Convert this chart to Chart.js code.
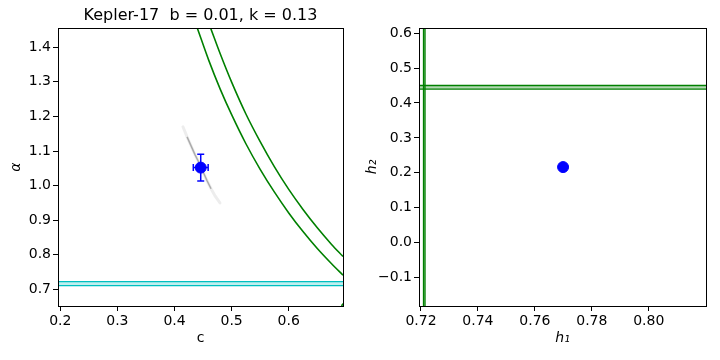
<!DOCTYPE html>
<html>
<head>
<meta charset="utf-8">
<script src="https://cdn.jsdelivr.net/npm/chart.js@4.4.1/dist/chart.umd.min.js"></script>
<style>
  html, body { margin: 0; padding: 0; background: #fff; }
  #wrap { position: relative; width: 720px; height: 360px; }
  canvas { position: absolute; top: 0; }
</style>
</head>
<body>
<div id="wrap">
  <canvas id="left-chart" width="360" height="360" style="left:0"></canvas>
  <canvas id="right-chart" width="360" height="360" style="left:360px"></canvas>
</div>
<script>
// ---- left panel: c vs alpha
const cRange = [0.196, 0.695];
const alphaRange = [0.652, 1.455];
const cTicks = [0.2, 0.3, 0.4, 0.5, 0.6];
const alphaTicks = [0.7, 0.8, 0.9, 1.0, 1.1, 1.2, 1.3, 1.4];

const innerCurveC = [0.440, 0.460, 0.480, 0.500, 0.525, 0.550, 0.575, 0.600, 0.625, 0.650, 0.675, 0.695];
const innerCurveAlpha = [1.455, 1.362, 1.279, 1.205, 1.121, 1.047, 0.981, 0.921, 0.867, 0.818, 0.774, 0.741];
const outerCurveC = [0.4633, 0.480, 0.500, 0.525, 0.550, 0.575, 0.600, 0.625, 0.650, 0.675, 0.695];
const outerCurveAlpha = [1.455, 1.381, 1.299, 1.207, 1.127, 1.054, 0.989, 0.931, 0.878, 0.830, 0.795];
const cornerCurveC = [0.6925, 0.6950];
const cornerCurveAlpha = [0.652, 0.659];

const alphaBand = [0.7225, 0.711];

const trailC = [0.4148, 0.4220, 0.4290, 0.4360, 0.4430, 0.4500, 0.4570, 0.4640, 0.4710, 0.4796];
const trailAlpha = [1.170, 1.141, 1.115, 1.089, 1.066, 1.040, 1.014, 0.991, 0.970, 0.950];

const fitC = 0.4459, fitCErr = 0.013;
const fitAlpha = 1.052, fitAlphaErr = 0.0385;

// ---- right panel: h1 vs h2
const h1Range = [0.7193, 0.8201];
const h2Range = [-0.182, 0.615];
const h1Ticks = [0.72, 0.74, 0.76, 0.78, 0.80];
const h2Ticks = [-0.1, 0.0, 0.1, 0.2, 0.3, 0.4, 0.5, 0.6];
const h2Band = [0.4502, 0.4398];
const h1Band = [0.7209, 0.7214];
const fitH1 = 0.7699, fitH2 = 0.2163;

const GREEN = 'rgb(0,128,0)';
const CYAN = 'rgb(0,191,191)';
const BLUE = 'rgb(0,0,255)';
const FONT = 'DejaVu Sans';

const toPts = (xs, ys) => xs.map((x, i) => ({x: x, y: ys[i]}));

// box round the plot area, like matplotlib spines
const framePlugin = {
    id: 'frame',
    afterDatasetsDraw(chart) {
        const a = chart.chartArea;
        const ctx = chart.ctx;
        ctx.save();
        ctx.strokeStyle = '#000';
        ctx.lineWidth = 1;
        ctx.strokeRect(Math.round(a.left) + 0.5, Math.round(a.top) + 0.5,
            Math.round(a.right - a.left), Math.round(a.bottom - a.top));
        ctx.restore();
    }
};

function fmt(decimals) {
    return v => v.toFixed(decimals).replace('-', '\u2212');
}

function axis(range, ticks, labelFmt, title, italic, pos, size, titlePad) {
    return {
        type: 'linear',
        position: pos,
        min: range[0],
        max: range[1],
        afterBuildTicks: ax => { ax.ticks = ticks.map(v => ({value: v})); },
        afterFit: ax => {
            if (pos === 'left') ax.width = size; else ax.height = size;
        },
        border: {display: false},
        grid: {display: true, drawOnChartArea: false, drawTicks: true,
               tickLength: 5, tickColor: '#000', tickWidth: 1},
        ticks: {color: '#000', padding: 2, maxRotation: 0, autoSkip: false,
                font: {family: FONT, size: 14}, callback: labelFmt},
        title: {display: true, text: title, color: '#000', padding: titlePad,
                font: {family: FONT, size: 14, style: italic ? 'italic' : 'normal'}}
    };
}

function errorBars(x, xe, y, ye) {
    return [
        {data: [{x: x, y: y - ye}, {x: x, y: y + ye}], borderColor: BLUE, borderWidth: 1.5,
         pointStyle: 'line', pointRadius: 3.5, pointBorderColor: BLUE, pointBorderWidth: 1.5,
         pointRotation: 0, order: 1},
        {data: [{x: x - xe, y: y}, {x: x + xe, y: y}], borderColor: BLUE, borderWidth: 1.5,
         pointStyle: 'line', pointRadius: 3.5, pointBorderColor: BLUE, pointBorderWidth: 1.5,
         pointRotation: 90, order: 1}
    ];
}

function lineSet(pts, color, width, extra) {
    return Object.assign({data: pts, borderColor: color, borderWidth: width,
        pointRadius: 0, fill: false, order: 3}, extra || {});
}

const baseOptions = {
    responsive: false,
    animation: false,
    devicePixelRatio: 1,
    plugins: {legend: {display: false}, tooltip: {enabled: false}}
};

// ---- left chart
new Chart(document.getElementById('left-chart').getContext('2d'), {
    type: 'line',
    data: {
        datasets: [
            {data: [{x: fitC, y: fitAlpha}], showLine: false, pointRadius: 5.5,
             pointBackgroundColor: BLUE, pointBorderColor: BLUE, order: 0},
            ...errorBars(fitC, fitCErr, fitAlpha, fitAlphaErr),
            lineSet(toPts(trailC, trailAlpha), 'rgba(0,0,0,0.07)', 3, {borderCapStyle: 'round', order: 5}),
            lineSet(toPts(trailC.slice(1, 8), trailAlpha.slice(1, 8)), 'rgba(0,0,0,0.28)', 1.5, {order: 4}),
            lineSet(toPts(innerCurveC, innerCurveAlpha), GREEN, 1.6, {cubicInterpolationMode: 'monotone'}),
            lineSet(toPts(outerCurveC, outerCurveAlpha), GREEN, 1.6, {cubicInterpolationMode: 'monotone'}),
            lineSet(toPts(cornerCurveC, cornerCurveAlpha), GREEN, 1.6),
            lineSet(toPts(cRange, [alphaBand[0], alphaBand[0]]), CYAN, 1.4),
            lineSet(toPts(cRange, [alphaBand[1], alphaBand[1]]), CYAN, 1.4,
                    {fill: '-1', backgroundColor: 'rgba(0,191,191,0.25)'})
        ]
    },
    options: Object.assign({}, baseOptions, {
        layout: {padding: {left: 0, right: 17, top: 0, bottom: 0}},
        scales: {
            x: axis(cRange, cTicks, fmt(1), 'c', false, 'bottom', 54, {top: 0, bottom: 13}),
            y: axis(alphaRange, alphaTicks, fmt(1), '\u03b1', true, 'left', 58, {top: 8, bottom: 0})
        },
        plugins: {
            legend: {display: false},
            tooltip: {enabled: false},
            title: {display: true, fullSize: false, text: 'Kepler-17  b = 0.01, k = 0.13',
                    color: '#000', font: {family: FONT, size: 16, weight: 'normal'},
                    padding: {top: 6, bottom: 3}}
        }
    }),
    plugins: [framePlugin]
});

// ---- right chart
new Chart(document.getElementById('right-chart').getContext('2d'), {
    type: 'line',
    data: {
        datasets: [
            {data: [{x: fitH1, y: fitH2}], showLine: false, pointRadius: 5.5,
             pointBackgroundColor: BLUE, pointBorderColor: BLUE, order: 0},
            lineSet(toPts(h1Range, [h2Band[0], h2Band[0]]), GREEN, 1.4),
            lineSet(toPts(h1Range, [h2Band[1], h2Band[1]]), GREEN, 1.4,
                    {fill: '-1', backgroundColor: 'rgba(0,128,0,0.3)'}),
            lineSet(toPts([h1Band[0], h1Band[0]], h2Range), GREEN, 1.4),
            lineSet(toPts([h1Band[1], h1Band[1]], h2Range), GREEN, 1.4)
        ]
    },
    options: Object.assign({}, baseOptions, {
        layout: {padding: {left: 0, right: 14, top: 28, bottom: 0}},
        scales: {
            x: axis(h1Range, h1Ticks, fmt(2), 'h\u2081', true, 'bottom', 54, {top: 0, bottom: 13}),
            y: axis(h2Range, h2Ticks, fmt(1), 'h\u2082', true, 'left', 59, {top: 4, bottom: 0})
        }
    }),
    plugins: [framePlugin]
});
</script>
</body>
</html>
